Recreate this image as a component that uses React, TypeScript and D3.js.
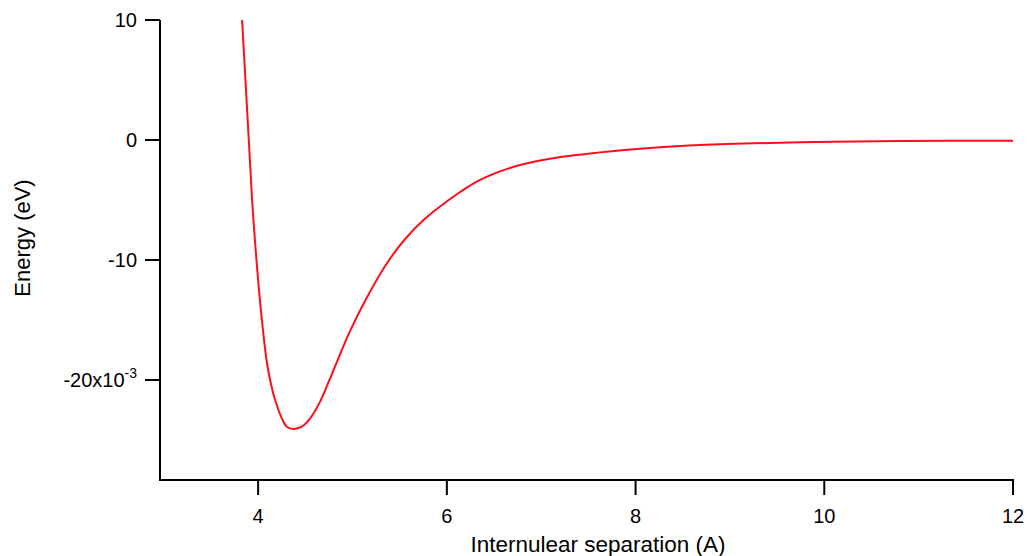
import React from "react";
import * as d3 from "d3";

// Internuclear separation (Å) and energy (×1e-3 eV)
const separation = [
  3.83, 3.901, 3.936, 3.966, 4.0, 4.04, 4.089, 4.127, 4.18, 4.251, 4.304, 4.374,
  4.463, 4.551, 4.657, 4.745, 4.834, 4.975, 5.134, 5.346, 5.558, 5.77, 6.003,
  6.352, 6.776, 7.2, 7.624, 8.154, 8.683, 9.743, 10.8, 12.0,
];
const energy = [
  10.0, 0.0, -5.0, -8.33, -11.67, -15.0, -18.33, -20.0, -21.67, -23.19, -23.89, -24.08,
  -23.89, -23.19, -21.8, -20.2, -18.5, -15.9, -13.4, -10.5, -8.25, -6.55, -5.1,
  -3.33, -2.08, -1.42, -1.03, -0.67, -0.42, -0.19, -0.08, -0.06,
];
const xTicks = [4, 6, 8, 10, 12];
const yTicks = [10, 0, -10, -20];
const xTitle = "Internulear separation (A)";
const yTitle = "Energy (eV)";

const W = 1031;
const H = 556;
const FONT = "'Liberation Sans', Arial, Helvetica, sans-serif";

export default function App() {
  const x = d3.scaleLinear().domain([2.96, 12]).range([160, 1013]);
  const y = d3.scaleLinear().domain([-28.33, 10]).range([480, 20]);
  const pts: [number, number][] = separation.map((s, i) => [s, energy[i]]);
  const line = d3
    .line<[number, number]>()
    .x((d) => x(d[0]))
    .y((d) => y(d[1]))
    .curve(d3.curveCatmullRom.alpha(0.5));
  const [x0, x1] = x.range();
  const [yb, yt] = y.range();
  const tickLen = 15;
  return (
    <svg
      width={W}
      height={H}
      style={{ position: "absolute", left: 0, top: 0, background: "#fff" }}
      fontFamily={FONT}
    >
      {/* curve */}
      <path d={line(pts) || ""} fill="none" stroke="#ff0d1a" strokeWidth={2} />
      {/* y axis */}
      <line x1={x0} x2={x0} y1={yt} y2={yb + 1} stroke="#000" strokeWidth={2} />
      {yTicks.map((t) => (
        <g key={"y" + t}>
          <line x1={x0 - tickLen} x2={x0} y1={y(t)} y2={y(t)} stroke="#000" strokeWidth={2} />
          <text x={137} y={y(t)} dy="0.35em" fontSize={20} textAnchor="end" fill="#000">
            {t === -20 ? (
              <>
                <tspan>-20x10</tspan>
                <tspan fontSize={14} dy={-9}>-3</tspan>
              </>
            ) : (
              String(t)
            )}
          </text>
        </g>
      ))}
      {/* x axis */}
      <line x1={x0 - 1} x2={x1 + 1} y1={yb} y2={yb} stroke="#000" strokeWidth={2} />
      {xTicks.map((t) => (
        <g key={"x" + t}>
          <line x1={x(t)} x2={x(t)} y1={yb} y2={yb + tickLen} stroke="#000" strokeWidth={2} />
          <text x={x(t)} y={523} fontSize={20} textAnchor="middle" fill="#000">
            {t}
          </text>
        </g>
      ))}
      <text x={598} y={552} fontSize={22.5} textAnchor="middle" fill="#000">
        {xTitle}
      </text>
      <text
        transform={`translate(30,238) rotate(-90)`}
        fontSize={22}
        textAnchor="middle"
        fill="#000"
      >
        {yTitle}
      </text>
    </svg>
  );
}
